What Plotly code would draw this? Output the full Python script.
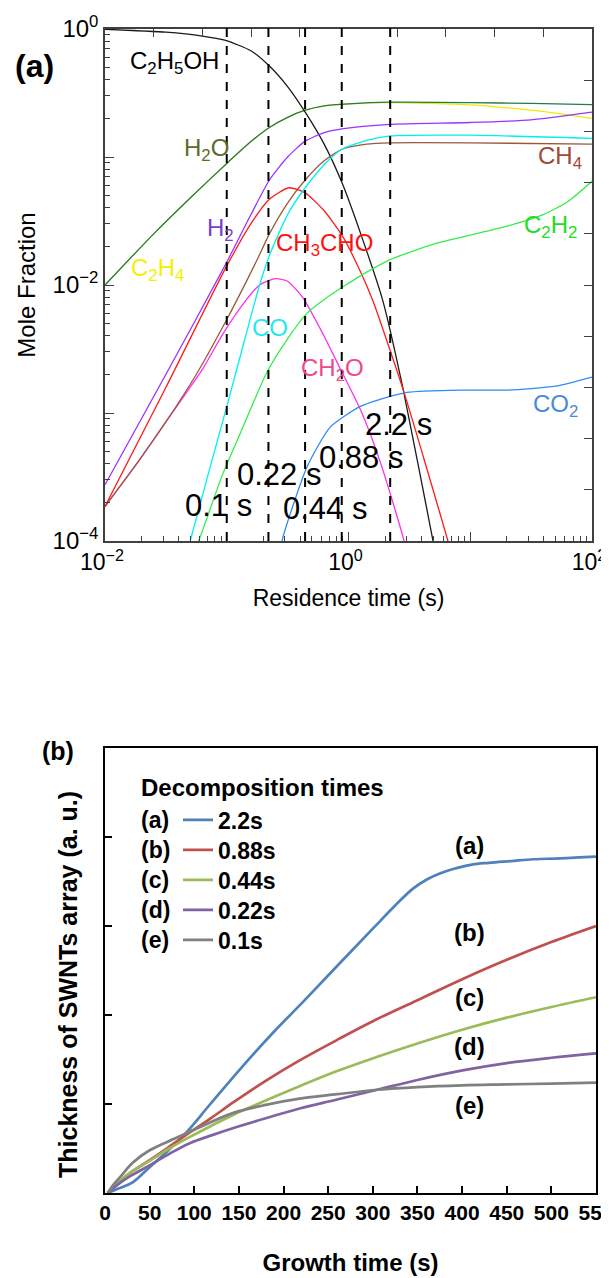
import math
import plotly.graph_objects as go

# ---------------- (a) mole fractions vs residence time ----------------
C2H5OH_T = [0.01, 0.0316, 0.0631, 0.0964, 0.158, 0.224, 0.316, 0.441, 0.631, 0.883, 1.26, 1.91, 2.82, 4.9, 6.0]
C2H5OH_Y = [0.995, 0.944, 0.881, 0.818, 0.676, 0.514, 0.355, 0.224, 0.126, 0.0631, 0.0251, 0.00759, 0.00151, 1.05e-4, 4e-5]

H2O_T = [0.01, 0.0251, 0.0501, 0.1, 0.158, 0.224, 0.316, 0.441, 0.631, 1.0, 2.2, 10, 31.6, 100]
H2O_Y = [0.01, 0.0251, 0.0479, 0.0891, 0.132, 0.170, 0.204, 0.232, 0.251, 0.260, 0.268, 0.266, 0.262, 0.257]

C2H4_T = [0.01, 0.0251, 0.0501, 0.1, 0.158, 0.224, 0.316, 0.441, 0.631, 1.0, 2.2, 10, 31.6, 60, 100]
C2H4_Y = [0.01, 0.0251, 0.0479, 0.0891, 0.132, 0.170, 0.204, 0.232, 0.251, 0.260, 0.266, 0.255, 0.232, 0.215, 0.200]

H2_T = [0.01, 0.0316, 0.0964, 0.158, 0.224, 0.316, 0.441, 0.631, 0.883, 2.2, 10, 31.6, 100]
H2_Y = [2.75e-4, 2.0e-3, 0.0141, 0.0355, 0.0661, 0.1, 0.133, 0.155, 0.166, 0.18, 0.186, 0.195, 0.224]

CH3CHO_T = [0.01, 0.0316, 0.0964, 0.158, 0.224, 0.324, 0.441, 0.631, 0.883, 1.26, 1.58, 2.82, 6.46, 8.0]
CH3CHO_Y = [1.86e-4, 1.58e-3, 0.0132, 0.0302, 0.0468, 0.0575, 0.0525, 0.038, 0.0245, 0.0126, 0.00759, 0.00151, 1.05e-4, 5e-5]

CH4_T = [0.01, 0.0178, 0.0316, 0.0562, 0.1, 0.135, 0.178, 0.224, 0.316, 0.441, 0.631, 0.883, 1.41, 2.2, 10, 100]
CH4_Y = [1.86e-4, 3.89e-4, 8.51e-4, 2.0e-3, 5.37e-3, 9.33e-3, 0.0158, 0.0251, 0.0437, 0.0661, 0.0933, 0.115, 0.126, 0.129, 0.129, 0.126]

CO_T = [0.0447, 0.0501, 0.0708, 0.1, 0.141, 0.186, 0.224, 0.316, 0.441, 0.631, 0.883, 1.41, 2.2, 10, 100]
CO_Y = [6.76e-5, 1e-4, 3.39e-4, 1.12e-3, 3.8e-3, 0.01, 0.017, 0.0355, 0.0575, 0.0871, 0.115, 0.135, 0.146, 0.148, 0.14]

CH2O_T = [0.01, 0.0178, 0.0316, 0.0468, 0.0631, 0.0933, 0.141, 0.186, 0.251, 0.316, 0.423, 0.631, 0.851, 1.26, 1.82, 2.82, 3.16]
CH2O_Y = [1.86e-4, 3.89e-4, 8.51e-4, 1.45e-3, 2.19e-3, 4.17e-3, 7.41e-3, 0.01, 0.0112, 0.0107, 7.94e-3, 3.98e-3, 2.24e-3, 1.05e-3, 4.17e-4, 1.05e-4, 6.3e-5]

C2H2_T = [0.0562, 0.0631, 0.0933, 0.129, 0.214, 0.316, 0.457, 0.661, 0.883, 1.41, 2.2, 5.01, 10, 20, 39.8, 63.1, 100]
C2H2_Y = [8.9e-5, 1.2e-4, 3.39e-4, 6.92e-4, 2.09e-3, 3.8e-3, 6.03e-3, 7.94e-3, 9.55e-3, 0.0126, 0.0158, 0.0209, 0.0245, 0.0288, 0.0355, 0.0447, 0.0646]

CO2_T = [0.275, 0.288, 0.457, 0.708, 1.24, 2.09, 3.02, 8.32, 20, 50.1, 100]
CO2_Y = [7.9e-5, 1.05e-4, 3.8e-4, 7.76e-4, 1.12e-3, 1.33e-3, 1.45e-3, 1.51e-3, 1.51e-3, 1.62e-3, 1.91e-3]

DECOMP_TIMES = [0.1, 0.22, 0.44, 0.88, 2.2]
DECOMP_LABELS = ["0.1 s", "0.22 s", "0.44 s", "0.88 s", "2.2 s"]

# ---------------- (b) SWNT array thickness vs growth time ----------------
A_T = [3, 15, 31, 50, 69, 92, 118, 160, 190, 224, 260, 300, 330, 345, 360, 375, 390, 411, 430, 455, 480, 510, 550]
A_V = [0, 0.05, 0.12, 0.29, 0.46, 0.69, 1.0, 1.49, 1.82, 2.17, 2.55, 2.97, 3.28, 3.42, 3.52, 3.59, 3.64, 3.69, 3.71, 3.73, 3.75, 3.76, 3.78]
B_T = [3, 15, 30, 50, 72, 95, 120, 144, 180, 218, 260, 300, 353, 402, 450, 500, 550]
B_V = [0, 0.12, 0.24, 0.37, 0.52, 0.68, 0.85, 1.02, 1.26, 1.49, 1.72, 1.93, 2.18, 2.41, 2.62, 2.82, 3.0]
C_T = [3, 15, 30, 50, 72, 95, 120, 144, 180, 218, 260, 305, 350, 402, 450, 500, 550]
C_V = [0, 0.12, 0.24, 0.36, 0.5, 0.63, 0.76, 0.88, 1.04, 1.2, 1.37, 1.53, 1.68, 1.84, 1.97, 2.09, 2.2]
D_T = [3, 15, 30, 50, 72, 95, 120, 144, 180, 218, 260, 305, 350, 402, 450, 500, 550]
D_V = [0, 0.1, 0.2, 0.31, 0.44, 0.56, 0.65, 0.73, 0.84, 0.95, 1.05, 1.16, 1.27, 1.38, 1.46, 1.52, 1.57]
E_T = [3, 10, 17, 31, 50, 80, 106, 144, 180, 218, 260, 305, 350, 400, 450, 500, 550]
E_V = [0, 0.1, 0.18, 0.34, 0.48, 0.62, 0.74, 0.9, 0.99, 1.06, 1.11, 1.16, 1.19, 1.21, 1.22, 1.23, 1.24]

SERIES_TAGS = ["(a)", "(b)", "(c)", "(d)", "(e)"]
SERIES_NAMES = ["2.2s", "0.88s", "0.44s", "0.22s", "0.1s"]
SERIES_COLORS = ["#4F81BD", "#C0504D", "#9BBB59", "#8064A2", "#808080"]
X_TICKS_B = list(range(0, 551, 50))

# the page body adds an 8 px margin; the figure is sized so that it ends at the window edge
PAGE_W, PAGE_H, OFF = 609, 1278, 8
W, H = PAGE_W - OFF, PAGE_H - OFF
FONT = "Arial, Liberation Sans, sans-serif"


def px(p):
    return (p - OFF) / W


def py(p):
    return 1 - (p - OFF) / H


TOP_X = [px(105), px(592)]
TOP_Y = [py(541), py(29)]
BOT_X = [px(105), px(596)]
BOT_Y = [py(1193), py(748)]

fig = go.Figure()

species = [
    ("C2H4", C2H4_T, C2H4_Y, "#f2ea00"),
    ("H2O", H2O_T, H2O_Y, "#237a4e"),
    ("C2H5OH", C2H5OH_T, C2H5OH_Y, "#1a1a1a"),
    ("H2", H2_T, H2_Y, "#9a33ff"),
    ("CH2O", CH2O_T, CH2O_Y, "#ff2ef0"),
    ("CH4", CH4_T, CH4_Y, "#9a5a3a"),
    ("CH3CHO", CH3CHO_T, CH3CHO_Y, "#ff1a1a"),
    ("CO", CO_T, CO_Y, "#00f0f0"),
    ("C2H2", C2H2_T, C2H2_Y, "#33ee4a"),
    ("CO2", CO2_T, CO2_Y, "#2f8cf2"),
]
for name, t, y, c in species:
    fig.add_trace(go.Scatter(x=t, y=y, mode="lines", line=dict(color=c, width=1.3, shape="spline", smoothing=0.6),
                             xaxis="x", yaxis="y", showlegend=False, name=name))

# helper overlay subplot carrying the ticks of the top/right frame
fig.add_trace(go.Scatter(x=[], y=[], xaxis="x3", yaxis="y3", showlegend=False, hoverinfo="skip"))

LEGEND_ROWS = [820, 850, 880, 910, 940]
for i, (tag, name, c, t, v) in enumerate(zip(SERIES_TAGS, SERIES_NAMES, SERIES_COLORS,
                                             [A_T, B_T, C_T, D_T, E_T], [A_V, B_V, C_V, D_V, E_V])):
    fig.add_trace(go.Scatter(x=t, y=v, mode="lines", name=name, line=dict(color=c, width=2.7, shape="spline"),
                             xaxis="x2", yaxis="y2", legend="legend" if i == 0 else f"legend{i + 1}"))

decades_x = [0.01, 0.1, 1, 10, 100]
decades_y = [1e-4, 1e-3, 1e-2, 1e-1, 1]
minor_x = [m * d for d in decades_x[:-1] for m in range(2, 10)]
minor_y = [m * d for d in decades_y[:-1] for m in range(2, 10)]

axcol = "#404040"
layout = dict(
    width=W, height=H, margin=dict(l=0, r=0, t=0, b=0, autoexpand=False),
    paper_bgcolor="white", plot_bgcolor="rgba(0,0,0,0)",
    font=dict(family=FONT, color="black"),
    xaxis=dict(type="log", range=[-2, 2], domain=TOP_X, anchor="y", automargin=False,
               tickmode="array", tickvals=decades_x, ticklabeloverflow="allow", ticklabelshift=-3,
               ticktext=["10<sup>−2</sup>", "", "10<sup>0</sup>", "", "10<sup>2</sup>"],
               ticks="inside", ticklen=9, tickwidth=1.2, tickcolor=axcol,
               minor=dict(tickmode="array", tickvals=minor_x, ticks="inside", ticklen=5, tickwidth=1, tickcolor=axcol),
               showline=True, linecolor=axcol, linewidth=1.5, mirror=True,
               showgrid=False, zeroline=False, tickfont=dict(size=23),
               title=dict(text="Residence time (s)", font=dict(size=23), standoff=16)),
    yaxis=dict(type="log", range=[-4, 0], domain=TOP_Y, anchor="x", automargin=False,
               tickmode="array", tickvals=decades_y, ticklabeloverflow="allow",
               ticktext=["10<sup>−4</sup>", "", "10<sup>−2</sup>", "", "10<sup>0</sup>"],
               ticks="inside", ticklen=9, tickwidth=1.2, tickcolor=axcol,
               minor=dict(tickmode="array", tickvals=minor_y, ticks="inside", ticklen=5, tickwidth=1, tickcolor=axcol),
               showline=True, linecolor=axcol, linewidth=1.5, mirror=True,
               showgrid=False, zeroline=False, tickfont=dict(size=24),
               title=dict(text="Mole Fraction", font=dict(size=24), standoff=10)),
    xaxis3=dict(type="log", range=[-2, 2], overlaying="x", side="top", anchor="y3", automargin=False,
                tickmode="array", tickvals=[10 ** (0.4 * k) for k in (-4, -3, -2, -1, 1, 2, 3, 4)],
                ticks="inside", ticklen=8, tickwidth=1.2, tickcolor=axcol, showticklabels=False,
                showline=False, showgrid=False, zeroline=False),
    yaxis3=dict(type="log", range=[-4, 0], overlaying="y", side="right", anchor="x3", automargin=False,
                tickmode="array", tickvals=[10 ** (-0.4 * k) for k in range(1, 10)],
                ticks="inside", ticklen=8, tickwidth=1.2, tickcolor=axcol, showticklabels=False,
                showline=False, showgrid=False, zeroline=False),
    xaxis2=dict(range=[0, 550], domain=BOT_X, anchor="y2", automargin=False, tickmode="array", tickvals=X_TICKS_B,
                ticklabeloverflow="allow",
                ticks="inside", ticklen=7, tickwidth=2, tickcolor="black",
                showline=True, linecolor="black", linewidth=2, mirror=True,
                showgrid=False, zeroline=False, tickfont=dict(size=21, weight="bold"),
                title=dict(text="Growth time (s)", font=dict(size=24, weight="bold"), standoff=31)),
    yaxis2=dict(range=[0, 5], domain=BOT_Y, anchor="x2", automargin=False, tickmode="array", tickvals=[1, 2, 3, 4],
                ticks="inside", ticklen=7, tickwidth=2, tickcolor="black", showticklabels=False,
                showline=True, linecolor="black", linewidth=2, mirror=True,
                showgrid=False, zeroline=False),
)
for i, row in enumerate(LEGEND_ROWS):
    key = "legend" if i == 0 else f"legend{i + 1}"
    layout[key] = dict(x=px(178), y=py(row), xanchor="left", yanchor="middle", bgcolor="rgba(0,0,0,0)",
                       font=dict(size=23, weight="bold"), itemclick=False, itemdoubleclick=False)
fig.update_layout(**layout)

# dashed decomposition-time lines and labels
for t in DECOMP_TIMES:
    xd = (math.log10(t) + 2) / 4
    fig.add_shape(type="line", xref="x domain", yref="paper", x0=xd, x1=xd,
                  y0=TOP_Y[0], y1=py(20), line=dict(color="black", width=2, dash="dash"))

DECOMP_LABEL_POS = [(0.085, 1.9e-4), (0.27, 3.3e-4), (0.64, 1.8e-4), (1.27, 4.5e-4), (2.57, 8.1e-4)]
for txt, (lx, ly) in zip(DECOMP_LABELS, DECOMP_LABEL_POS):
    fig.add_annotation(x=math.log10(lx), y=math.log10(ly), xref="x", yref="y", text=txt, showarrow=False,
                       xanchor="center", yanchor="middle", font=dict(size=31, color="black"))

SPECIES_LABELS = [
    ("C<sub>2</sub>H<sub>5</sub>OH", 0.0369, 0.552, "black"),
    ("H<sub>2</sub>O", 0.0676, 0.1135, "#5b6b2b"),
    ("H<sub>2</sub>", 0.0891, 0.0269, "#7b3fc8"),
    ("C<sub>2</sub>H<sub>4</sub>", 0.0272, 0.0132, "#f5f000"),
    ("CH<sub>3</sub>CHO", 0.641, 0.0209, "#ff1010"),
    ("CO", 0.226, 0.00468, "#22eaf0"),
    ("CH<sub>2</sub>O", 0.733, 0.00219, "#f0488c"),
    ("CO<sub>2</sub>", 50.1, 0.00115, "#4a8ad8"),
    ("CH<sub>4</sub>", 55.0, 0.1, "#a04838"),
    ("C<sub>2</sub>H<sub>2</sub>", 45.7, 0.0288, "#22dd22"),
]
for txt, lx, ly, c in SPECIES_LABELS:
    fig.add_annotation(x=math.log10(lx), y=math.log10(ly), xref="x", yref="y", text=txt, showarrow=False,
                       xanchor="center", yanchor="middle", font=dict(size=24, color=c))

# panel labels
fig.add_annotation(x=px(34), y=py(66), xref="paper", yref="paper", text="<b>(a)</b>", showarrow=False,
                   xanchor="center", yanchor="middle", font=dict(size=32))
fig.add_annotation(x=px(58), y=py(751), xref="paper", yref="paper", text="<b>(b)</b>", showarrow=False,
                   xanchor="center", yanchor="middle", font=dict(size=25))

# bottom y-axis title
fig.add_annotation(x=px(68), y=py(985), xref="paper", yref="paper", text="Thickness of SWNTs array (a. u.)",
                   textangle=-90, showarrow=False, xanchor="center", yanchor="middle",
                   font=dict(size=25, weight="bold"))

# legend header and row tags
fig.add_annotation(x=px(139), y=py(787), xref="paper", yref="paper", xanchor="left", yanchor="middle",
                   text="Decomposition times", showarrow=False, font=dict(size=24, weight="bold"))
for tag, row in zip(SERIES_TAGS, LEGEND_ROWS):
    fig.add_annotation(x=px(139), y=py(row), xref="paper", yref="paper", xanchor="left", yanchor="middle",
                       text=tag, showarrow=False, font=dict(size=23, weight="bold"))

# curve tags
CURVE_TAG_Y = [3.91, 2.93, 2.2, 1.65, 0.98]
for tag, ty in zip(SERIES_TAGS, CURVE_TAG_Y):
    fig.add_annotation(x=408, y=ty, xref="x2", yref="y2", text=tag, showarrow=False,
                       xanchor="center", yanchor="middle", font=dict(size=24, weight="bold"))

fig.write_html("out.html")
